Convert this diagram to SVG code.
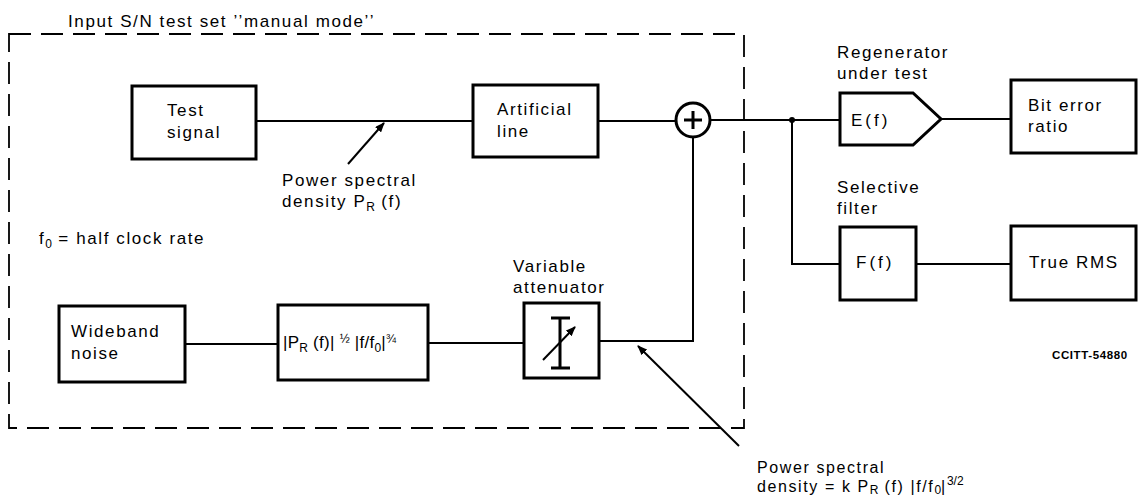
<svg xmlns="http://www.w3.org/2000/svg" width="1139" height="498" viewBox="0 0 1139 498">
<defs>
<style>
text{font-family:"Liberation Sans",Arial,sans-serif;font-size:17px;fill:#000;letter-spacing:1.6px}
.box{fill:#fff;stroke:#000;stroke-width:3}
.ln{fill:none;stroke:#000;stroke-width:2}
.dash{fill:none;stroke:#000;stroke-width:1.8;stroke-dasharray:22 10}
.sm{font-size:12px;letter-spacing:0}
.fx{letter-spacing:3px}
.frm{letter-spacing:0.3px}
.bt{font-size:16px}
.code{font-size:11.5px;font-weight:bold;letter-spacing:0.6px}
</style>
<marker id="ah" markerWidth="10" markerHeight="8" refX="9" refY="4" orient="auto" markerUnits="userSpaceOnUse">
<path d="M0,0 L10,4 L0,8 Z" fill="#000"/>
</marker>
</defs>
<text x="68" y="27">Input S/N test set ’’manual mode’’</text>
<rect class="dash" x="9" y="34" width="735" height="394"/>
<g id="connectors">
<line class="ln" x1="256" y1="121" x2="473" y2="121"/>
<line class="ln" x1="598" y1="121" x2="676" y2="121"/>
<line class="ln" x1="710" y1="120" x2="840" y2="120"/>
<circle cx="792" cy="120" r="3" fill="#000"/>
<line class="ln" x1="941" y1="119" x2="1011" y2="119"/>
<polyline class="ln" points="792,120 792,264 840,264"/>
<line class="ln" x1="916" y1="264" x2="1011" y2="264"/>
<line class="ln" x1="185" y1="344" x2="278" y2="344"/>
<line class="ln" x1="428" y1="343" x2="524" y2="343"/>
<polyline class="ln" points="599,341 693,341 693,137"/>
<line class="ln" x1="348" y1="164" x2="384" y2="123" marker-end="url(#ah)"/>
<line class="ln" x1="739" y1="446" x2="638" y2="346" marker-end="url(#ah)"/>
</g>
<g id="test-signal">
<rect class="box" x="132" y="86" width="124" height="73"/>
<text x="167" y="116">Test</text>
<text x="167" y="138">signal</text>
</g>
<g id="artificial-line">
<rect class="box" x="473" y="85" width="125" height="72"/>
<text x="497" y="115">Artificial</text>
<text x="497" y="137">line</text>
</g>
<g id="summer">
<circle cx="693" cy="120" r="17" fill="#fff" stroke="#000" stroke-width="3"/>
<path d="M684,120 H702 M693,111 V129" stroke="#000" stroke-width="3"/>
</g>
<g id="regenerator">
<polygon class="box" points="840,93 913,93 941,119 913,145 840,145"/>
<text class="fx" x="851" y="126">E(f)</text>
<text x="837" y="58">Regenerator</text>
<text x="837" y="79">under test</text>
</g>
<g id="bit-error-ratio">
<rect class="box" x="1011" y="80" width="125" height="73"/>
<text x="1028" y="111">Bit error</text>
<text x="1028" y="132">ratio</text>
</g>
<g id="selective-filter">
<rect class="box" x="840" y="227" width="76" height="73"/>
<text class="fx" x="856" y="268">F(f)</text>
<text x="837" y="193">Selective</text>
<text x="837" y="214">filter</text>
</g>
<g id="true-rms">
<rect class="box" x="1011" y="226" width="125" height="74"/>
<text x="1029" y="268">True RMS</text>
</g>
<g id="wideband-noise">
<rect class="box" x="59" y="306" width="126" height="76"/>
<text x="71" y="337">Wideband</text>
<text x="71" y="359">noise</text>
</g>
<g id="shaping-filter">
<rect class="box" x="278" y="305" width="150" height="75"/>
<text class="frm" x="283" y="348">|P<tspan class="sm" dy="4">R</tspan><tspan dy="-4"> (f)| </tspan><tspan class="sm" dy="-5">½</tspan><tspan dy="5"> |f/f</tspan><tspan class="sm" dy="4">0</tspan><tspan dy="-4">|</tspan><tspan class="sm" dy="-5">¾</tspan></text>
</g>
<g id="variable-attenuator">
<rect class="box" x="524" y="303" width="75" height="75"/>
<path d="M551,318 H570 M560,318 V368 M551,368 H570" stroke="#000" stroke-width="3" fill="none"/>
<line x1="543" y1="360" x2="575" y2="327" stroke="#000" stroke-width="2" marker-end="url(#ah)"/>
<text x="513" y="272">Variable</text>
<text x="513" y="293">attenuator</text>
</g>
<text x="282" y="186">Power spectral</text>
<text x="282" y="207">density P<tspan class="sm" dy="4">R</tspan><tspan dy="-4"> (f)</tspan></text>
<text x="39" y="244">f<tspan class="sm" dy="4">0</tspan><tspan dy="-4"> = half clock rate</tspan></text>
<text class="bt" x="757" y="473">Power spectral</text>
<text class="bt" x="757" y="492">density = k P<tspan class="sm" dy="2">R</tspan><tspan dy="-2"> (f) |f/f</tspan><tspan class="sm" dy="2">0</tspan><tspan dy="-2">|</tspan><tspan class="sm" dy="-7">3/2</tspan></text>
<text class="code" x="1052" y="359">CCITT-54880</text>
</svg>
